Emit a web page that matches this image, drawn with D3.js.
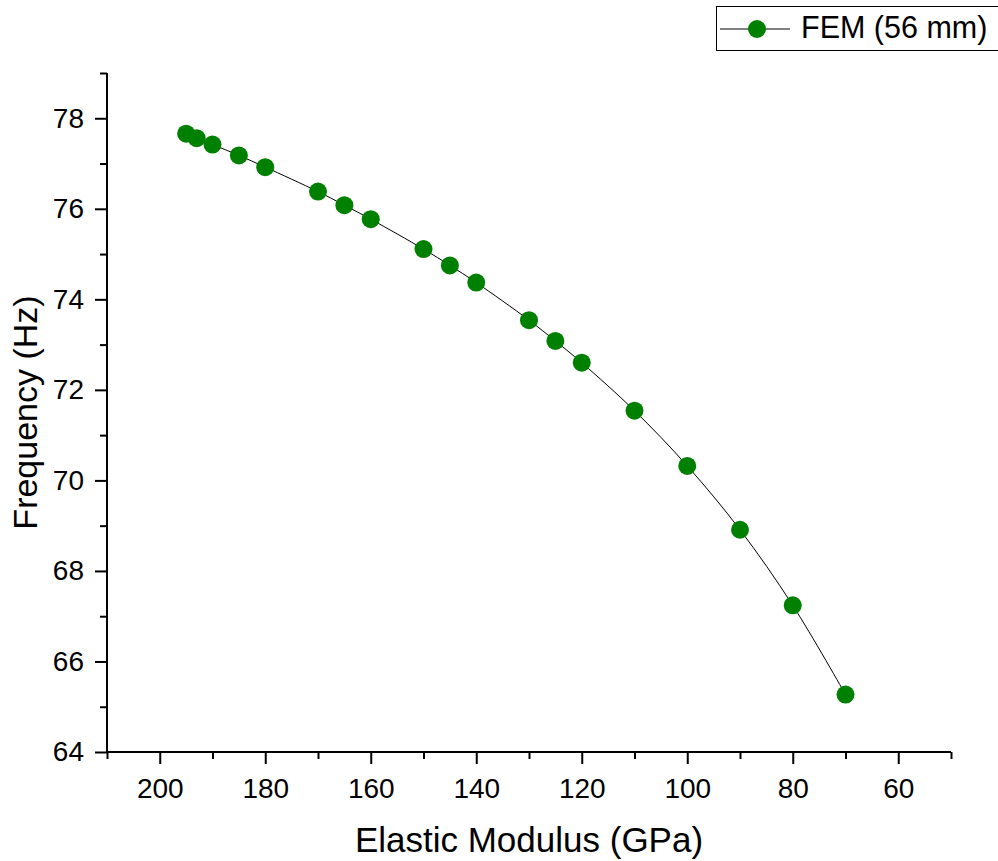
<!DOCTYPE html>
<html>
<head>
<meta charset="utf-8">
<script src="https://cdn.jsdelivr.net/npm/d3@7"></script>
<style>
  html, body { margin: 0; padding: 0; background: #fff; }
  svg { display: block; font-family: "Liberation Sans", Arial, sans-serif; }
</style>
</head>
<body>
<svg id="chart" width="998" height="861"></svg>
<script>
// ---- data ----
const modulus = [195, 193, 190, 185, 180, 170, 165, 160, 150, 145, 140, 130, 125, 120, 110, 100, 90, 80, 70];
const frequency = [77.66, 77.56, 77.42, 77.18, 76.92, 76.38, 76.08, 75.77, 75.11, 74.75, 74.37, 73.54, 73.08, 72.60, 71.54, 70.32, 68.91, 67.24, 65.27];
const seriesName = "FEM (56 mm)";
const xMajorTicks = [200, 180, 160, 140, 120, 100, 80, 60];
const xMinorTicks = [210, 190, 170, 150, 130, 110, 90, 70, 50];
const yMajorTicks = [64, 66, 68, 70, 72, 74, 76, 78];
const yMinorTicks = [65, 67, 69, 71, 73, 75, 77, 79];
const xTitle = "Elastic Modulus (GPa)";
const yTitle = "Frequency (Hz)";

const data = modulus.map((m, i) => ({ x: m, y: frequency[i] }));

const W = 998, H = 861;
const margin = { left: 107, top: 73, right: 47, bottom: 109 };
const svg = d3.select("#chart");

const x = d3.scaleLinear().domain([210, 50]).range([margin.left, W - margin.right]);
const y = d3.scaleLinear().domain([64, 79]).range([H - margin.bottom, margin.top]);

const green = "#008000";

// axes
const xAxisG = svg.append("g").attr("transform", `translate(0,${H - margin.bottom})`);
xAxisG.call(d3.axisBottom(x).tickValues(xMinorTicks).tickSize(7).tickSizeOuter(0).tickFormat(""));
xAxisG.call(g => g.selectAll(".domain").remove());
const xMaj = svg.append("g").attr("transform", `translate(0,${H - margin.bottom})`)
  .call(d3.axisBottom(x).tickValues(xMajorTicks).tickSize(12).tickSizeOuter(0).tickPadding(14).tickFormat(d3.format("d")));
xMaj.selectAll("text").attr("font-size", 28).attr("fill", "#000").attr("font-family", "Liberation Sans, Arial, sans-serif");

const yAxisG = svg.append("g").attr("transform", `translate(${margin.left},0)`);
yAxisG.call(d3.axisLeft(y).tickValues(yMinorTicks).tickSize(7).tickSizeOuter(0).tickFormat(""));
yAxisG.call(g => g.selectAll(".domain").remove());
const yMaj = svg.append("g").attr("transform", `translate(${margin.left},0)`)
  .call(d3.axisLeft(y).tickValues(yMajorTicks).tickSize(12).tickSizeOuter(0).tickPadding(11).tickFormat(d3.format("d")));
yMaj.selectAll("text").attr("font-size", 28).attr("fill", "#000").attr("font-family", "Liberation Sans, Arial, sans-serif");

svg.selectAll(".tick line").attr("stroke", "#000").attr("stroke-width", 2);
svg.selectAll(".domain").attr("stroke", "#000").attr("stroke-width", 2);
// extend domain lines to full range
xMaj.select(".domain").attr("d", `M${x(210)},0H${x(50)}`);
yMaj.select(".domain").attr("d", `M0,${y(64)}V${y(79)}`);

// titles
svg.append("text")
  .attr("x", (margin.left + W - margin.right) / 2)
  .attr("y", 852)
  .attr("text-anchor", "middle")
  .attr("font-size", 35)
  .attr("fill", "#000")
  .text(xTitle);

svg.append("text")
  .attr("transform", `translate(37,${(margin.top + H - margin.bottom) / 2}) rotate(-90)`)
  .attr("text-anchor", "middle")
  .attr("font-size", 34)
  .attr("fill", "#000")
  .text(yTitle);

// line
const line = d3.line().x(d => x(d.x)).y(d => y(d.y)).curve(d3.curveCatmullRom.alpha(0.5));
svg.append("path").datum(data)
  .attr("d", line)
  .attr("fill", "none")
  .attr("stroke", "#000")
  .attr("stroke-width", 1);

// markers
svg.append("g").selectAll("circle").data(data).join("circle")
  .attr("cx", d => x(d.x))
  .attr("cy", d => y(d.y))
  .attr("r", 9)
  .attr("fill", green);

// legend
const lg = svg.append("g");
lg.append("rect").attr("x", 716.5).attr("y", 6.5).attr("width", 290).attr("height", 44)
  .attr("fill", "#fff").attr("stroke", "#000").attr("stroke-width", 1);
lg.append("line").attr("x1", 720).attr("x2", 790).attr("y1", 29).attr("y2", 29)
  .attr("stroke", "#000").attr("stroke-width", 1);
lg.append("circle").attr("cx", 757).attr("cy", 29).attr("r", 9).attr("fill", green);
lg.append("text").attr("x", 801).attr("y", 38).attr("font-size", 30.5).attr("fill", "#000").text(seriesName);
</script>
</body>
</html>
